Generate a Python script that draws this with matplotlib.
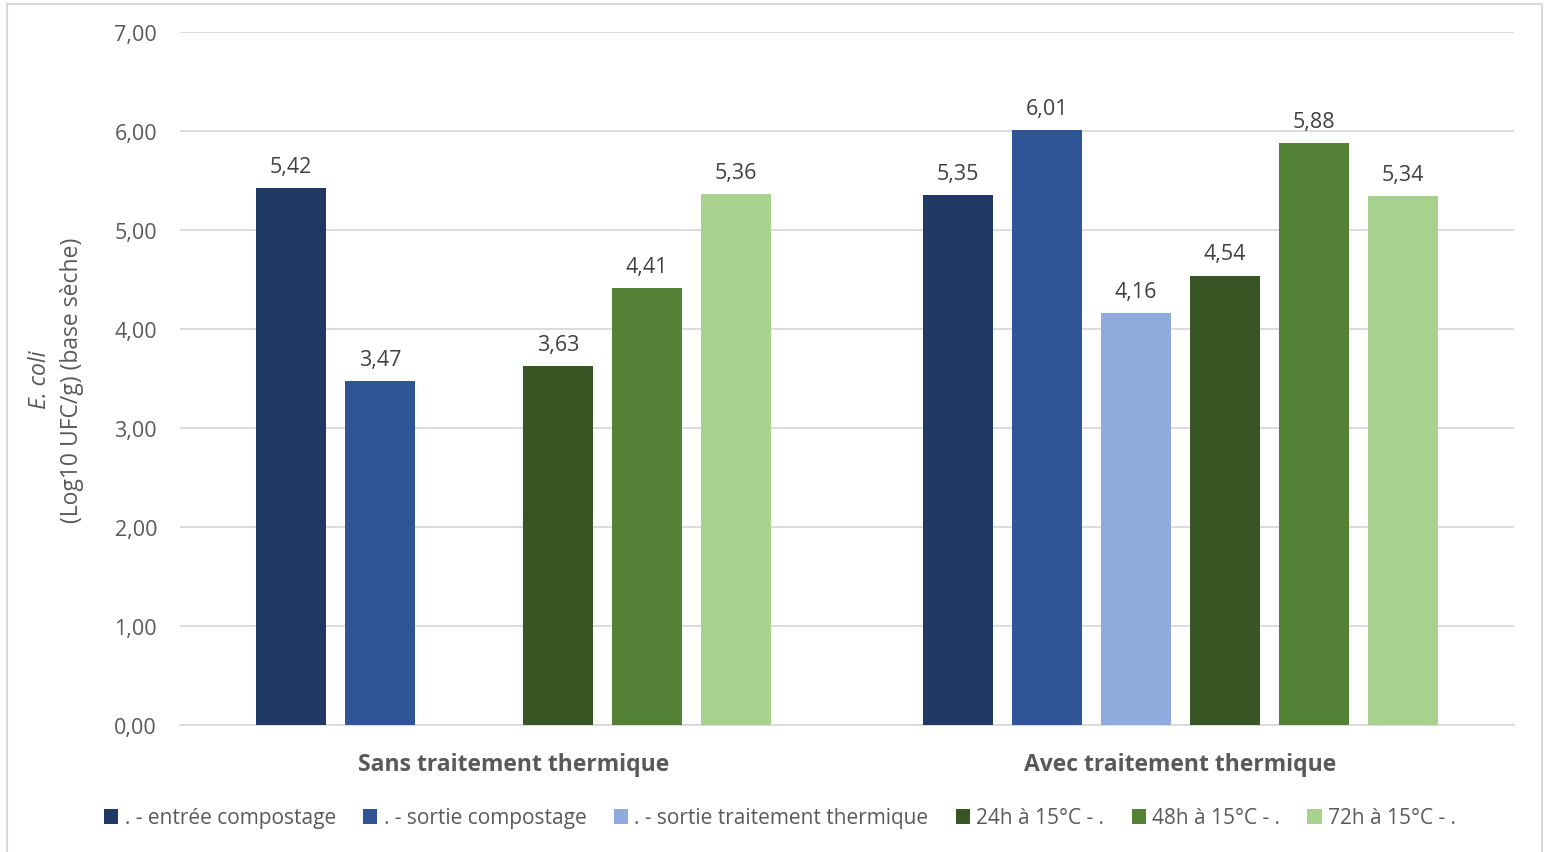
import numpy as np
import matplotlib
matplotlib.use("Agg")
import matplotlib.pyplot as plt
from matplotlib.patches import Rectangle

plt.rcParams['font.family'] = ['Open Sans', 'DejaVu Sans']

categories = ["Sans traitement thermique", "Avec traitement thermique"]
series_names = [
    ". - entrée compostage",
    ". - sortie compostage",
    ". - sortie traitement thermique",
    "24h à 15°C - .",
    "48h à 15°C - .",
    "72h à 15°C - .",
]
values = [
    [5.42, 5.35],
    [3.47, 6.01],
    [np.nan, 4.16],
    [3.63, 4.54],
    [4.41, 5.88],
    [5.36, 5.34],
]
colors = ["#1F3864", "#2F5597", "#8FAADC", "#375623", "#538135", "#A9D18E"]
y_ticks = [0, 1, 2, 3, 4, 5, 6, 7]

text_color = "#595959"
grid_color = "#D9D9D9"

fig = plt.figure(figsize=(15.49, 8.53), dpi=100)
ax = fig.add_axes([180 / 1549, 1 - 726 / 853, (1514 - 180) / 1549, (726 - 33) / 853])

x = np.arange(len(categories))
n = len(series_names)
group_w = 0.8
slot = group_w / n
bar_w = slot * 70 / 89

for i, (name, vals, col) in enumerate(zip(series_names, values, colors)):
    pos = x - group_w / 2 + slot * (i + 0.5)
    bars = ax.bar(pos, vals, width=bar_w, color=col, label=name, zorder=3)
    labels = ["" if np.isnan(v) else f"{v:.2f}".replace(".", ",") for v in vals]
    ax.bar_label(bars, labels=labels, padding=8, fontsize=15.5, color="#404040")

ax.set_xlim(-0.5, 1.5)
ax.set_ylim(0, 7)
ax.set_yticks(y_ticks)
ax.set_yticklabels([f"{t:.2f}".replace(".", ",") for t in y_ticks], fontsize=15.5, color=text_color)
ax.set_xticks(x)
ax.set_xticklabels(categories, fontsize=16.5, fontweight="bold", color=text_color)
ax.tick_params(axis="both", length=0)
ax.tick_params(axis="y", pad=16.5)
ax.tick_params(axis="x", pad=19.5)
ax.yaxis.grid(True, color=grid_color, linewidth=1.3, zorder=0)
for s in ["top", "right", "left"]:
    ax.spines[s].set_visible(False)
ax.spines["bottom"].set_color(grid_color)
ax.spines["bottom"].set_linewidth(1.3)

# Two-line y-axis title, first line in italics
fig.text(40 / 1549, 1 - 380 / 853, "E. coli", rotation=90, fontsize=16.5, style="italic",
         color=text_color, ha="center", va="center")
fig.text(72 / 1549, 1 - 380 / 853, "(Log10 UFC/g) (base sèche)", rotation=90, fontsize=16.5,
         color=text_color, ha="center", va="center")

handles, labs = ax.get_legend_handles_labels()
leg = fig.legend(handles, labs, loc="center", bbox_to_anchor=(780 / 1549, 1 - 819 / 853),
                 ncol=6, frameon=False, fontsize=15, handlelength=0.7, handleheight=0.7,
                 handletextpad=0.3, columnspacing=1.3, labelcolor=text_color)

# Chart frame
fig.patches.append(Rectangle((7 / 1549, -0.01), (1542 - 7) / 1549, 1 - 5 / 853 + 0.01,
                             transform=fig.transFigure, fill=False, edgecolor=grid_color,
                             linewidth=1.5, zorder=0))

fig.savefig("out.png", dpi=100, facecolor="white")
